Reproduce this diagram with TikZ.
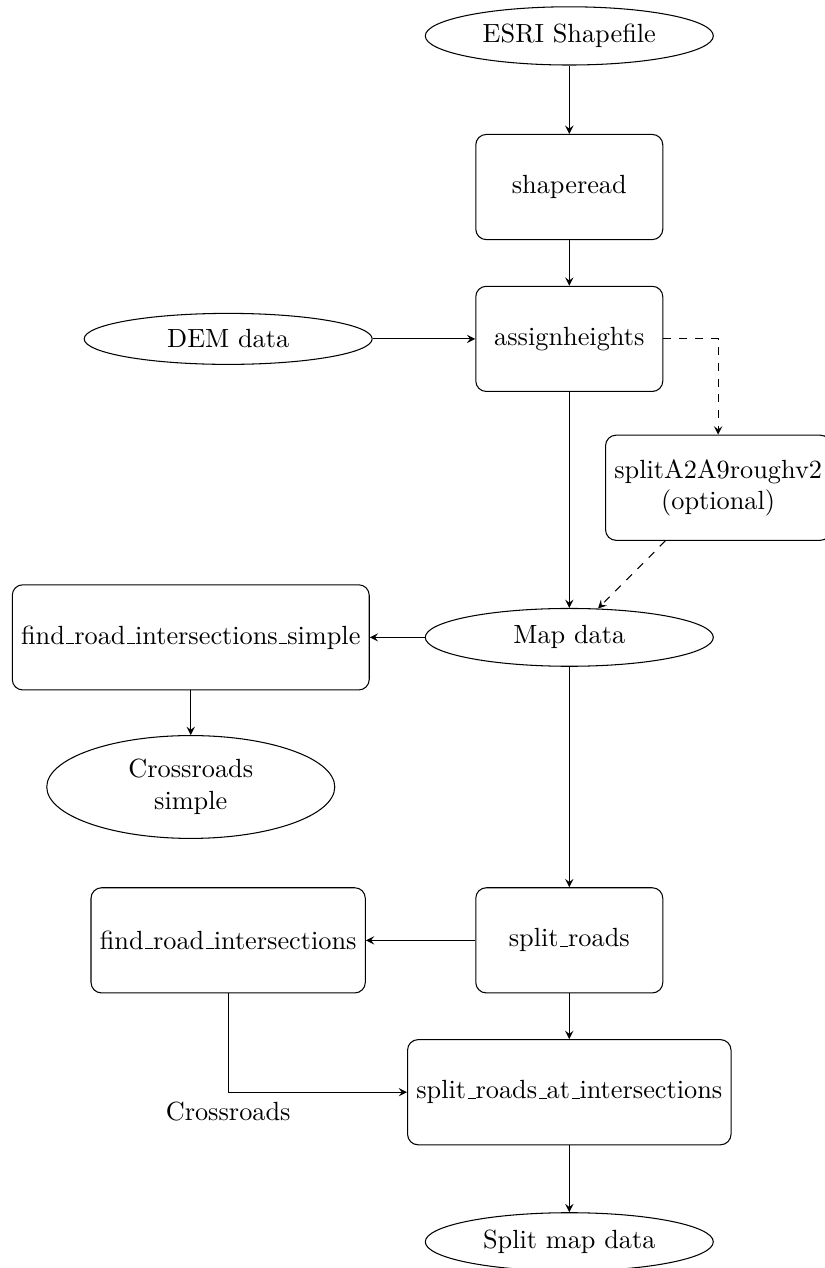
\documentclass[tikz,border=0pt]{standalone}
\usetikzlibrary{shapes.geometric}

\newcommand{\us}{\leavevmode\kern.06em\vbox{\hrule width.3em}}

\begin{document}
\begin{tikzpicture}
  [
    >=stealth,
    block/.style={rectangle, draw, rounded corners, minimum width=2.5cm, minimum height=4em, align=center},
    cloud/.style={ellipse, draw, minimum width=3.85cm, align=center},
    line/.style={draw, ->},
  ]

  % frame
  \useasboundingbox (0,0) rectangle (11.02,-16.95);

  % main column
  \def\x{7.61}
  \node [cloud] (esri) at (\x, -0.48) {ESRI Shapefile};
  \node [block] (shaperead) at (\x, -2.50) {shaperead};
  \node [block] (assign) at (\x, -4.53) {assignheights};
  \node [cloud] (map) at (\x, -8.52) {Map data};
  \node [block] (splitroads) at (\x, -12.57) {split\us roads};
  \node [block] (splitat) at (\x, -14.60) {split\us roads\us at\us intersections};
  \node [cloud] (splitmap) at (\x, -16.60) {Split map data};

  % side nodes
  \node [cloud] (dem) at (3.05, -4.53) {DEM data};
  \node [block] (rough) at (9.60, -6.52) {splitA2A9roughv2\\(optional)};
  \node [block] (findsimple) at (2.55, -8.52) {find\us road\us intersections\us simple};
  \node [cloud] (crosssimple) at (2.55, -10.52) {Crossroads\\simple};
  \node [block] (find) at (3.05, -12.57) {find\us road\us intersections};

  % edges
  \path [line] (esri) -- (shaperead);
  \path [line] (shaperead) -- (assign);
  \path [line] (dem) -- (assign);
  \path [line] (assign) -- (map);
  \path [line, dashed] (assign.east) -| (rough.north);
  \path [line, dashed] (rough) -- (map);
  \path [line] (map) -- (findsimple);
  \path [line] (findsimple) -- (crosssimple);
  \path [line] (map) -- (splitroads);
  \path [line] (splitroads) -- (find);
  \path [line] (splitroads) -- (splitat);
  \path [line] (find.south) |- node [below] {Crossroads} (splitat.west);
  \path [line] (splitat) -- (splitmap);

\end{tikzpicture}
\end{document}
